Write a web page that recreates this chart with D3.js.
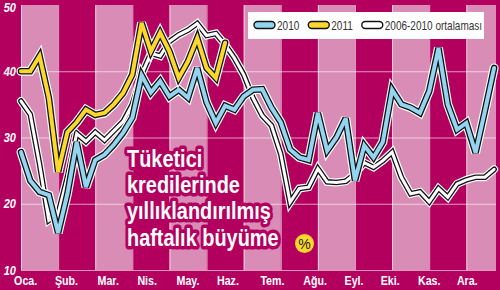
<!DOCTYPE html>
<html>
<head>
<meta charset="utf-8">
<script src="https://cdnjs.cloudflare.com/ajax/libs/d3/7.8.5/d3.min.js"></script>
<style>
  html, body { margin: 0; padding: 0; background: #b3005f; }
  svg { display: block; }
  text { font-family: "Liberation Sans", Arial, sans-serif; }
</style>
</head>
<body>
<svg id="chart" width="500" height="290"></svg>
<script>
(function () {

    // weekly values, week 0 = first week of January
    const months = ['Oca.', 'Şub.', 'Mar.', 'Nis.', 'May.', 'Haz.', 'Tem.', 'Ağu.', 'Eyl.', 'Eki.', 'Kas.', 'Ara.'];
    const monthWeeks = [0.5, 4.9, 9.4, 13.6, 18, 22.3, 27.1, 31.7, 35.9, 39.8, 44, 48.1];
    const yTicks = [10, 20, 30, 40, 50];

    const growth2010 = [27.8, 23.5, 21.8, 21.3, 15.6, 21.5, 29.3, 22.5, 26.6, 27.4, 28.9, 30.7, 33,
        39.4, 36.8, 38.5, 36.2, 37.2, 36, 40.5, 35.3, 32.2, 34.8, 34.2, 36.2, 37.2, 37.3,
        34.5, 32.3, 28.2, 27, 26.6, 33.7, 28, 30, 32.9, 23.5, 28.8, 27, 29.3,
        37.2, 35, 34.5, 33.7, 37, 43.5, 35, 31.2, 32.2, 27.7, 34, 40.5];
    const growth2011 = [40, 40, 42.3, 36, 24.8, 30.8, 32.3, 34.2, 33.4, 33.7, 35, 36.7,
        39.5, 47.3, 43, 45.8, 43, 39, 41.5, 45, 40.5, 39, 44.3];
    const avg2006to2010 = [35.5, 33.5, 26, 17.5, 18.5, 24, 30.6, 29.4, 30.8, 29.6, 31, 32.4, 35,
        39.5, 42.7, 42.3, 44.5, 45.5, 46.2, 47.2, 45.4, 45.7, 44, 42, 39.5, 36, 33.3,
        31.8, 27.5, 20.2, 22.3, 22.5, 25.3, 23.3, 23.2, 23.4, 24.5, 26.2, 25.5, 26.5,
        27.8, 24, 21.5, 21.8, 20.3, 22.3, 21, 23, 23.6, 24, 24, 25.2];

    const seriesNames = ['2010', '2011', '2006-2010 ortalaması'];
    const titleLines = ['Tüketici', 'kredilerinde', 'yıllıklandırılmış', 'haftalık büyüme'];

    const magenta = '#b3005f';
    const pink = '#d98cb6';
    const blue = '#93d5f1';
    const yellow = '#fdd82c';

    const svg = d3.select('#chart');

    // no narrow font installed: squeeze text horizontally around its anchor
    const place = (px, py, k) => `translate(${px},${py}) scale(${k},1)`;

    const x = d3.scaleLinear().domain([0, 51.2]).range([21, 496]);
    const y = d3.scaleLinear().domain([10, 50]).range([270, 5]);

    // alternating 4-week columns
    const colStarts = d3.range(0, 52, 4);
    svg.append('g')
        .selectAll('rect')
        .data(colStarts.filter((d, i) => i % 2 === 0))
        .join('rect')
        .attr('x', d => x(d))
        .attr('y', y(50))
        .attr('width', d => Math.min(x(d + 4), x(51.2)) - x(d))
        .attr('height', y(10) - y(50))
        .attr('fill', pink);

    const grid = svg.append('g')
        .attr('stroke', 'rgba(255,255,255,0.6)')
        .attr('stroke-width', 1);

    grid.selectAll('line.v')
        .data(colStarts)
        .join('line')
        .attr('class', 'v')
        .attr('x1', d => x(d) + 0.5)
        .attr('x2', d => x(d) + 0.5)
        .attr('y1', y(50))
        .attr('y2', y(10));

    grid.selectAll('line.h')
        .data([10, 20, 30, 40])
        .join('line')
        .attr('class', 'h')
        .attr('x1', x(0))
        .attr('x2', x(51.2))
        .attr('y1', d => y(d) + 0.5)
        .attr('y2', d => y(d) + 0.5);

    // axis labels
    svg.append('g')
        .selectAll('text')
        .data(yTicks)
        .join('text')
        .attr('transform', d => place(16, Math.max(y(d) + 4.5, 11.5), 0.85))
        .attr('text-anchor', 'end')
        .attr('fill', '#fff')
        .style('font-size', '13px')
        .style('font-weight', 'bold')
        .style('font-style', 'italic')
        .text(d => d);

    svg.append('g')
        .selectAll('text')
        .data(months)
        .join('text')
        .attr('transform', (d, i) => place(x(monthWeeks[i]), 285, 0.82))
        .attr('text-anchor', 'middle')
        .attr('fill', '#fff')
        .style('font-size', '13px')
        .style('font-weight', 'bold')
        .text(d => d);

    const line = d3.line()
        .x((d, i) => x(i))
        .y(d => y(d));

    function drawSeries(values, color, coreWidth) {
        const g = svg.append('g')
            .attr('fill', 'none')
            .attr('stroke-linejoin', 'miter')
            .attr('stroke-miterlimit', 3)
            .attr('stroke-linecap', 'round');
        const layers = [
            ['#fff', coreWidth + 5],
            ['#111', coreWidth + 2.6],
            [color, coreWidth]
        ];
        for (let [c, w] of layers) {
            g.append('path')
                .datum(values)
                .attr('d', line)
                .attr('stroke', c)
                .attr('stroke-width', w);
        }
    }

    drawSeries(avg2006to2010, '#fff', 3);
    drawSeries(growth2010, blue, 4);
    drawSeries(growth2011, yellow, 4);

    // legend
    const legend = svg.append('g');
    legend.append('rect')
        .attr('x', 248)
        .attr('y', 12)
        .attr('width', 236)
        .attr('height', 27)
        .attr('fill', '#fff');

    const swatchColors = [blue, yellow, '#fff'];
    let lx = 254;
    seriesNames.forEach((name, i) => {
        legend.append('rect')
            .attr('x', lx)
            .attr('y', 21.5)
            .attr('width', 21)
            .attr('height', 7)
            .attr('rx', 3.5)
            .attr('fill', swatchColors[i])
            .attr('stroke', '#111')
            .attr('stroke-width', 1.4);
        const t = legend.append('text')
            .attr('transform', place(lx + 23, 29.5, 0.77))
            .attr('fill', '#333')
            .style('font-size', '13px')
            .text(name);
        lx += 23 + t.node().getComputedTextLength() * 0.77 + 9;
    });

    // title block, magenta halo behind white letters
    svg.append('g')
        .style('font-size', '24px')
        .style('font-weight', 'bold')
        .selectAll('text')
        .data(titleLines)
        .join('text')
        .attr('transform', (d, i) => place(127, 167 + i * 26.2, 0.83))
        .attr('fill', '#fff')
        .attr('stroke', magenta)
        .attr('stroke-width', 7)
        .attr('stroke-linejoin', 'round')
        .attr('paint-order', 'stroke')
        .text(d => d);

    svg.append('circle')
        .attr('cx', 304.5)
        .attr('cy', 243.5)
        .attr('r', 9.5)
        .attr('fill', yellow);

    svg.append('text')
        .attr('x', 304.5)
        .attr('y', 248.5)
        .attr('text-anchor', 'middle')
        .attr('fill', '#222')
        .style('font-size', '14px')
        .text('%');

})();
</script>
</body>
</html>
